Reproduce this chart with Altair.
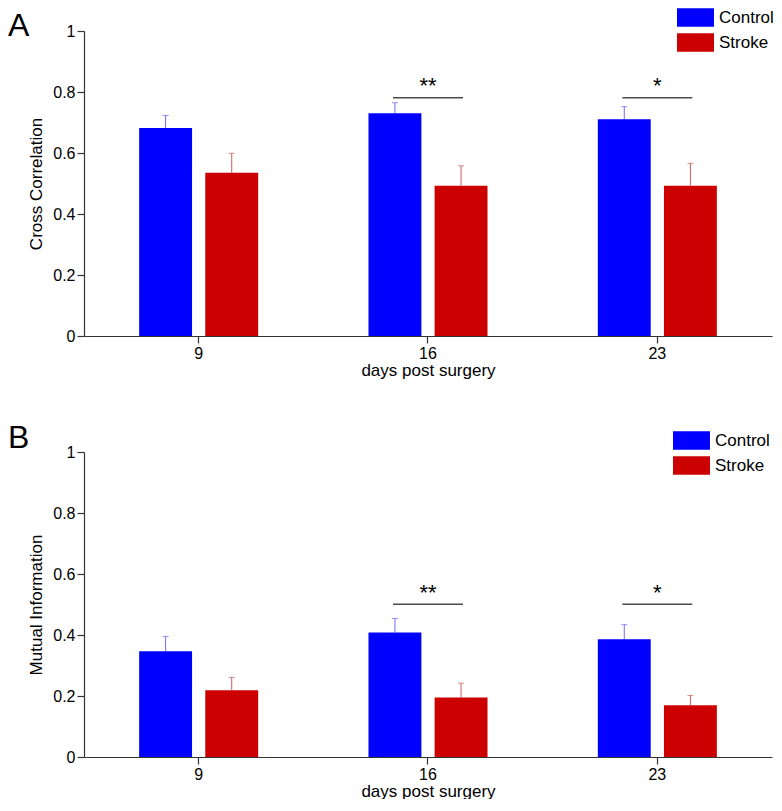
import altair as alt
import pandas as pd

days = ["9", "16", "23"]
groups = ["Control", "Stroke"]

cc_control = [0.682, 0.730, 0.711]
cc_control_err = [0.041, 0.035, 0.041]
cc_stroke = [0.535, 0.493, 0.493]
cc_stroke_err = [0.064, 0.065, 0.073]

mi_control = [0.347, 0.408, 0.386]
mi_control_err = [0.048, 0.046, 0.048]
mi_stroke = [0.219, 0.195, 0.170]
mi_stroke_err = [0.042, 0.047, 0.032]

sig_days = ["16", "23"]
sig_labels = ["**", "*"]
cc_sig_y = [0.781, 0.781]
mi_sig_y = [0.501, 0.501]

bar_colors = ["#0000FF", "#CC0000"]
err_colors = ["#6A6AFF", "#D05A5A"]
FONT = "Liberation Sans"


def make_df(ctrl, ctrl_err, strk, strk_err):
    rows = []
    for i, d in enumerate(days):
        rows.append(dict(day=d, group="Control", value=ctrl[i], top=ctrl[i] + ctrl_err[i]))
        rows.append(dict(day=d, group="Stroke", value=strk[i], top=strk[i] + strk_err[i]))
    return pd.DataFrame(rows)


def panel(df, sig_y, letter, ytitle, lx, ly, lety):
    sig_df = pd.DataFrame({"day": sig_days, "label": sig_labels, "y": sig_y,
                           "ys": [v + 0.015 for v in sig_y]})
    xenc = alt.X("day:N", sort=days, title="days post surgery",
                 scale=alt.Scale(paddingInner=0.481, paddingOuter=0.2405),
                 axis=alt.Axis(labelAngle=0, labelPadding=2, titlePadding=1))
    xoff = alt.XOffset("group:N", sort=groups,
                       scale=alt.Scale(paddingInner=0.2, paddingOuter=0))
    yscale = alt.Scale(domain=[0, 1], nice=False)
    yenc = alt.Y("value:Q", scale=yscale, title=ytitle,
                 axis=alt.Axis(values=[0, 0.2, 0.4, 0.6, 0.8, 1], format="~g",
                               titlePadding=7, labelPadding=2))
    base = alt.Chart(df)
    rules = base.mark_rule(strokeWidth=1).encode(
        x=xenc, xOffset=xoff, y=yenc, y2="top:Q",
        stroke=alt.Stroke("group:N", scale=alt.Scale(domain=groups, range=err_colors), legend=None),
    )
    caps = base.mark_tick(size=6, thickness=1).encode(
        x=xenc, xOffset=xoff, y=alt.Y("top:Q", scale=yscale),
        fill=alt.Fill("group:N", scale=alt.Scale(domain=groups, range=err_colors), legend=None),
    )
    bars = base.mark_bar(strokeWidth=0).encode(
        x=xenc, xOffset=xoff, y=yenc,
        color=alt.Color("group:N", scale=alt.Scale(domain=groups, range=bar_colors),
                        legend=alt.Legend(title=None, orient="none", legendX=lx, legendY=ly,
                                          symbolType="M-2,-1L2,-1L2,1L-2,1Z", symbolSize=342,
                                          symbolStrokeWidth=0, labelOffset=14, rowPadding=6,
                                          padding=0, labelFontSize=17, labelFont=FONT,
                                          labelColor="black")),
    )
    sig = alt.Chart(sig_df).mark_tick(size=70, thickness=1.6, color="black").encode(
        x=alt.X("day:N", sort=days), y=alt.Y("y:Q", scale=yscale))
    stars = alt.Chart(sig_df).mark_text(fontSize=22, baseline="alphabetic", color="black",
                                        font=FONT).encode(
        x=alt.X("day:N", sort=days), y=alt.Y("ys:Q", scale=yscale), text="label:N")
    lab = alt.Chart(pd.DataFrame({"t": [letter]})).mark_text(
        align="left", baseline="alphabetic", fontSize=32, font=FONT, color="black").encode(
        x=alt.value(-76), y=alt.value(lety), text="t:N")
    return alt.layer(rules, caps, bars, sig, stars, lab).properties(width=688, height=305)


pa = panel(make_df(cc_control, cc_control_err, cc_stroke, cc_stroke_err), cc_sig_y, "A",
           "Cross Correlation", 602, -23, 5)
pb = panel(make_df(mi_control, mi_control_err, mi_stroke, mi_stroke_err), mi_sig_y, "B",
           "Mutual Information", 598, -21, -4)

chart = alt.vconcat(pa, pb, spacing=44).resolve_scale(color="independent").properties(
    padding={"left": 0, "top": 0, "right": 0, "bottom": 0}
).configure_view(stroke=None).configure_axis(
    grid=False, domainColor="#333333", tickColor="#333333", tickSize=7, domainWidth=1.2,
    tickWidth=1.2, labelFontSize=16, titleFontSize=17, labelFont=FONT, titleFont=FONT,
    labelColor="black", titleColor="black", titleFontWeight="normal"
).configure_text(font=FONT)

chart.save("out.html", embed_options={"renderer": "svg", "actions": False})
